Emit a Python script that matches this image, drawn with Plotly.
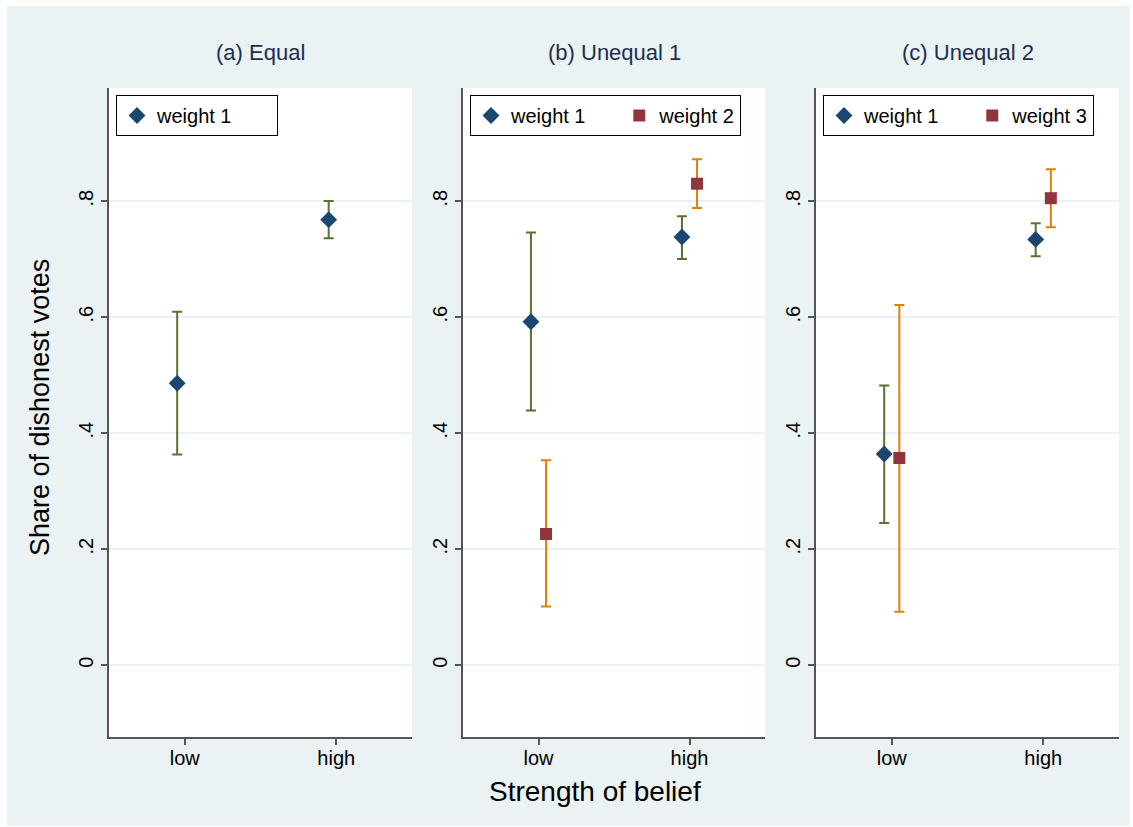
import plotly.graph_objects as go

categories = ["low", "high"]
panel_titles = ["(a) Equal", "(b) Unequal 1", "(c) Unequal 2"]

# Panel (a)
a_w1_mean = [0.486, 0.768]
a_w1_lo = [0.363, 0.736]
a_w1_hi = [0.609, 0.800]

# Panel (b)
b_w1_mean = [0.592, 0.738]
b_w1_lo = [0.439, 0.700]
b_w1_hi = [0.746, 0.774]
b_w2_mean = [0.226, 0.830]
b_w2_lo = [0.101, 0.788]
b_w2_hi = [0.353, 0.872]

# Panel (c)
c_w1_mean = [0.364, 0.734]
c_w1_lo = [0.245, 0.705]
c_w1_hi = [0.482, 0.762]
c_w3_mean = [0.357, 0.805]
c_w3_lo = [0.092, 0.755]
c_w3_hi = [0.621, 0.855]

ytick_vals = [0, 0.2, 0.4, 0.6, 0.8]
ytick_text = ["0", ".2", ".4", ".6", ".8"]

NAVY = "#1a476f"
MAROON = "#90353b"
GREEN = "#55752f"
ORANGE = "#e37e00"
BG = "#eaf2f3"

W, H = 1133, 827
fig = go.Figure()

xdomains = [(109 / W, 412 / W), (463 / W, 765 / W), (816 / W, 1119 / W)]
ydomain = (1 - 737 / H, 1 - 88 / H)
PAD_MID = "\u00a0" * 5
PAD_END = "\u00a0" * 7


def add_series(panel, name, mean, lo, hi, offset, symbol, mcolor, ecolor, msize, legend):
    xs = [i + 1 + offset for i in range(len(categories))]
    fig.add_trace(go.Scatter(
        x=xs, y=mean, mode="markers", name=name,
        marker=dict(symbol=symbol, color=mcolor, size=msize, line=dict(width=0)),
        error_y=dict(type="data", symmetric=False,
                     array=[h - m for h, m in zip(hi, mean)],
                     arrayminus=[m - l for m, l in zip(mean, lo)],
                     color=ecolor, thickness=2, width=5),
        xaxis="x" if panel == 1 else f"x{panel}",
        yaxis="y" if panel == 1 else f"y{panel}",
        legend=legend, showlegend=True,
    ))


add_series(1, "weight 1" + PAD_END, a_w1_mean, a_w1_lo, a_w1_hi, -0.05, "diamond", NAVY, GREEN, 13, "legend")
add_series(2, "weight 1" + PAD_MID, b_w1_mean, b_w1_lo, b_w1_hi, -0.05, "diamond", NAVY, GREEN, 13, "legend2")
add_series(2, "weight 2", b_w2_mean, b_w2_lo, b_w2_hi, 0.05, "square", MAROON, ORANGE, 12, "legend2")
add_series(3, "weight 1" + PAD_MID, c_w1_mean, c_w1_lo, c_w1_hi, -0.05, "diamond", NAVY, GREEN, 13, "legend3")
add_series(3, "weight 3", c_w3_mean, c_w3_lo, c_w3_hi, 0.05, "square", MAROON, ORANGE, 12, "legend3")

white_strips = [
    (0, 7, 0, H), (1130, W, 0, H), (0, W, 0, 6), (0, W, 826, H),
]
shapes = []
for x0, x1, y0, y1 in white_strips:
    shapes.append(dict(type="rect", xref="paper", yref="paper", layer="above",
                       x0=x0 / W, x1=x1 / W, y0=1 - y1 / H, y1=1 - y0 / H,
                       fillcolor="white", line=dict(width=0)))

layout = dict(
    width=W, height=H,
    margin=dict(l=0, r=0, t=0, b=0),
    paper_bgcolor=BG,
    plot_bgcolor="white",
    font=dict(family="Arial", size=20, color="black"),
    shapes=shapes,
    annotations=[],
)

for i in range(3):
    sfx = "" if i == 0 else str(i + 1)
    layout[f"xaxis{sfx}"] = dict(
        domain=list(xdomains[i]), range=[0.5, 2.5],
        tickvals=[1, 2], ticktext=categories,
        ticks="outside", ticklen=6, tickwidth=2, tickcolor="#555555",
        showline=True, linecolor="#555555", linewidth=2,
        showgrid=False, zeroline=False, fixedrange=True,
        anchor="y" if i == 0 else f"y{i + 1}",
        tickfont=dict(size=20), ticklabelstandoff=-4,
    )
    layout[f"yaxis{sfx}"] = dict(
        domain=list(ydomain), range=[-0.124, 0.995],
        tickvals=ytick_vals, ticktext=ytick_text, tickangle=-90,
        ticks="outside", ticklen=6, tickwidth=2, tickcolor="#555555",
        showline=True, linecolor="#555555", linewidth=2,
        showgrid=True, gridcolor=BG, gridwidth=1.5, zeroline=False,
        anchor="x" if i == 0 else f"x{i + 1}",
        tickfont=dict(size=20),
    )
    layout["annotations"].append(dict(
        text=panel_titles[i], xref="paper", yref="paper",
        x=(xdomains[i][0] + xdomains[i][1]) / 2, y=1 - 53 / H,
        showarrow=False, font=dict(size=22, color="#1e2d53"),
        xanchor="center", yanchor="middle"))

layout["annotations"].append(dict(
    text="Strength of belief", xref="paper", yref="paper",
    x=595 / W, y=1 - 791 / H, showarrow=False,
    font=dict(size=28, color="black"), xanchor="center", yanchor="middle"))
layout["annotations"].append(dict(
    text="Share of dishonest votes", xref="paper", yref="paper",
    x=40 / W, y=1 - 408 / H, showarrow=False, textangle=-90,
    font=dict(size=27, color="black"), xanchor="center", yanchor="middle"))

leg_common = dict(orientation="h", bgcolor="white", bordercolor="black", borderwidth=1,
                  font=dict(size=20, color="black"), xanchor="left", yanchor="top",
                  xref="paper", yref="paper", itemclick=False, itemdoubleclick=False)
layout["legend"] = dict(leg_common, x=116 / W, y=1 - 95 / H)
layout["legend2"] = dict(leg_common, x=470 / W, y=1 - 95 / H)
layout["legend3"] = dict(leg_common, x=823 / W, y=1 - 95 / H)

fig.update_layout(**layout)
fig.write_html("out.html")
